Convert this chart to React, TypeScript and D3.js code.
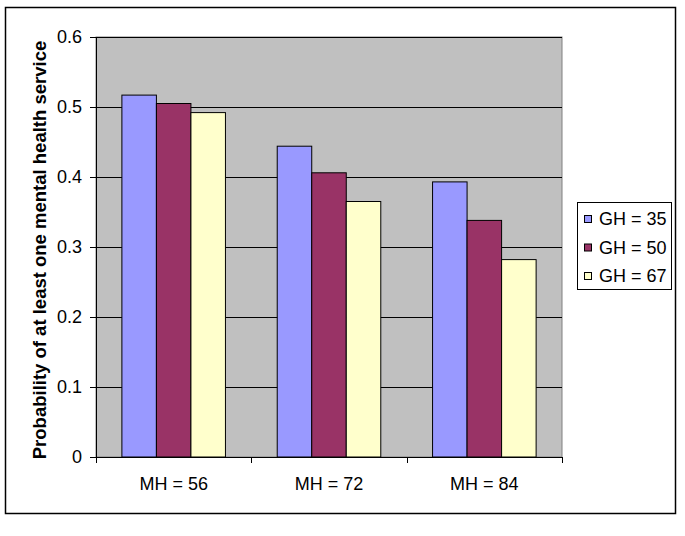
import React from "react";
import { scaleBand, scaleLinear } from "d3";

const categories = ["MH = 56", "MH = 72", "MH = 84"];
const seriesNames = ["GH = 35", "GH = 50", "GH = 67"];
const gh35 = [0.517, 0.444, 0.393];
const gh50 = [0.505, 0.406, 0.338];
const gh67 = [0.492, 0.365, 0.282];
const yTicks = [0, 0.1, 0.2, 0.3, 0.4, 0.5, 0.6];
const colors = ["#9999FF", "#993366", "#FFFFCC"];

const W = 685, H = 536;
const plot = { left: 96, top: 37, right: 562, bottom: 457 };
const font = "Arial, 'Liberation Sans', sans-serif";
const fs = 18;

const App = () => {
  const series = [gh35, gh50, gh67];

  const x = scaleBand()
    .domain(categories)
    .range([plot.left, plot.right]);

  // excel style: gap width 150% -> bar = band / (3 + 1.5)
  const barW = x.bandwidth() / (series.length + 1.5);
  const groupPad = (x.bandwidth() - barW * series.length) / 2;

  const y = scaleLinear().domain([0, 0.6]).range([plot.bottom, plot.top]);

  return (
    <svg width={W} height={H} style={{ position: "absolute", left: 0, top: 0 }} fontFamily={font}>
      <rect x={0} y={0} width={W} height={H} fill="#fff" />
      <rect x={5.5} y={7.5} width={670} height={506} fill="none" stroke="#000" strokeWidth={1.5} />

      <rect x={plot.left} y={plot.top} width={plot.right - plot.left} height={plot.bottom - plot.top}
        fill="#C0C0C0" stroke="#808080" strokeWidth={1} />

      {yTicks.filter(t => t > 0).map(t => (
        <line key={t} x1={plot.left} x2={plot.right} y1={Math.round(y(t)) + 0.5} y2={Math.round(y(t)) + 0.5}
          stroke="#000" strokeWidth={1} />
      ))}

      {categories.map((c, i) => series.map((s, j) => (
        <rect key={c + j}
          x={x(c)! + groupPad + j * barW}
          y={y(s[i])}
          width={barW}
          height={plot.bottom - y(s[i])}
          fill={colors[j]} stroke="#000" strokeWidth={1} />
      )))}

      {/* y axis */}
      <line x1={plot.left + 0.5} x2={plot.left + 0.5} y1={plot.top} y2={plot.bottom} stroke="#000" />
      {yTicks.map(t => (
        <g key={t}>
          <line x1={plot.left - 6} x2={plot.left} y1={Math.round(y(t)) + 0.5} y2={Math.round(y(t)) + 0.5} stroke="#000" />
          <text x={plot.left - 14} y={y(t)} dy="0.35em" textAnchor="end" fontSize={fs}>{t === 0 ? "0" : t.toFixed(1)}</text>
        </g>
      ))}

      {/* x axis */}
      <line x1={plot.left} x2={plot.right} y1={plot.bottom + 0.5} y2={plot.bottom + 0.5} stroke="#000" />
      {[...categories.map(c => x(c)!), plot.right].map((v, i) => (
        <line key={i} x1={Math.round(v) + 0.5} x2={Math.round(v) + 0.5} y1={plot.bottom} y2={plot.bottom + 6} stroke="#000" />
      ))}
      {categories.map(c => (
        <text key={c} x={x(c)! + x.bandwidth() / 2} y={484} dy="0.35em" textAnchor="middle" fontSize={fs}>{c}</text>
      ))}

      <text transform={`translate(40,250) rotate(-90)`} textAnchor="middle"
        dy="0.35em" fontSize={18.5} fontWeight="bold">Probability of at least one mental health service</text>

      {/* legend */}
      <rect x={577.5} y={202.5} width={94} height={87} fill="#fff" stroke="#000" strokeWidth={1} />
      {seriesNames.map((n, i) => (
        <g key={n} transform={`translate(0,${219 + i * 28.5})`}>
          <rect x={584.5} y={-3.5} width={7} height={7} fill={colors[i]} stroke="#000" strokeWidth={1} />
          <text x={599} y={0} dy="0.35em" fontSize={fs}>{n}</text>
        </g>
      ))}
    </svg>
  );
};

export default App;
